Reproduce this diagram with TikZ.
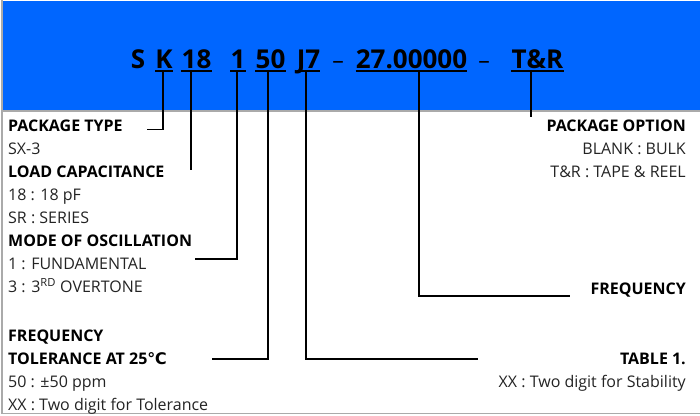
\documentclass[tikz,border=0pt]{standalone}
\usepackage{fontspec}
\setmainfont{Open Sans}
\newfontfamily\dejavu{DejaVu Sans}
\definecolor{bandblue}{RGB}{0,102,255}
\definecolor{rulegray}{RGB}{170,170,170}
\definecolor{txt}{RGB}{35,35,35}
\begin{document}
\begin{tikzpicture}[x=1pt,y=-1pt,
  code/.style={font=\fontsize{26}{30}\selectfont\bfseries, inner sep=0pt, anchor=base, text=black},
  codedash/.style={font=\fontsize{23}{26}\selectfont, inner sep=0pt, anchor=base, text=black},
  head/.style={font=\fontsize{16}{19}\selectfont\bfseries, inner sep=0pt, text=black},
  body/.style={font=\fontsize{16}{19}\selectfont, inner sep=0pt, text=txt},
  lead/.style={line width=1.7pt, black},
  uline/.style={line width=1.6pt, black}]
\useasboundingbox (0,0) rectangle (700,415);
% frame and band
\fill[bandblue] (2.5,1) rectangle (700,109.5);
\draw[rulegray, line width=2pt] (2,110.5) -- (700,110.5);
\draw[rulegray, line width=1.2pt] (2,0) -- (2,413.5);
\draw[rulegray, line width=1.5pt] (2,413.5) -- (700,413.5);
% code tokens
\node[code] (tS) at (138,68) {S};
\node[code] (tK) at (164,68) {K};
\node[code] (t18) at (196.5,68) {18};
\node[code] (t1) at (238,68) {1};
\node[code] (t50) at (270.5,68) {50};
\node[code] (tJ7) at (308.5,68) {J7};
\node[codedash] (td1) at (338,68) {–};
\node[code] (tF) at (411.5,68) {27.00000};
\node[codedash] (td2) at (484,68) {–};
\node[code] (tTR) at (537.5,68) {T\&R};
\foreach \n in {tK,t18,t1,t50,tJ7,tF,tTR}
  \draw[uline] ([yshift=-3pt]\n.base west) -- ([yshift=-3pt]\n.base east);
% connector anchor points
\coordinate (cK) at (163,72);
\coordinate (c18) at (191,72);
\coordinate (c1) at (237,72);
\coordinate (c50) at (268,72);
\coordinate (cJ7) at (306,72);
\coordinate (cF) at (419,72);
\coordinate (cTR) at (531,72);
\coordinate (eK) at (147,129.5);
\coordinate (e18) at (191,170);
\coordinate (e1) at (195,259);
\coordinate (e50) at (212,359);
\coordinate (eJ7) at (478,359);
\coordinate (eF) at (570,296);
\coordinate (eTR) at (531,116.5);
\draw[lead] (cK) |- (eK);
\draw[lead] (c18) -- (e18);
\draw[lead] (c1) |- (e1);
\draw[lead] (c50) |- (e50);
\draw[lead] (cJ7) |- (eJ7);
\draw[lead] (cF) |- (eF);
\draw[lead] (cTR) -- (eTR);
% left texts
\node[head, anchor=base west] (pt) at (8,131) {PACKAGE TYPE};
\node[body, anchor=base west] (sx) at (8,154) {SX-3};
\node[head, anchor=base west] (lc) at (8,177.5) {LOAD CAPACITANCE};
\node[body, anchor=base west] (lc1) at (8,200.5) {18 : 18 pF};
\node[body, anchor=base west] (lc2) at (8,223.5) {SR : SERIES};
\node[head, anchor=base west] (mo) at (8,246.5) {MODE OF OSCILLATION};
\node[body, anchor=base west] (mo1) at (8,269.5) {1 : FUNDAMENTAL};
\node[body, anchor=base west] (mo2) at (8,292.5) {3 : 3\textsuperscript{RD} OVERTONE};
\node[head, anchor=base west] (ft1) at (8,341.5) {FREQUENCY};
\node[head, anchor=base west] (ft2) at (8,364.5) {TOLERANCE AT 25{\dejavu\bfseries ℃}};
\node[body, anchor=base west] (ft3) at (8,387.5) {50 : ±50 ppm};
\node[body, anchor=base west] (ft4) at (8,410.5) {XX : Two digit for Tolerance};
% right texts
\node[head, anchor=base east] (po) at (686,131) {PACKAGE OPTION};
\node[body, anchor=base east] (po1) at (686,154) {BLANK : BULK};
\node[body, anchor=base east] (po2) at (686,177.5) {T\&R : TAPE \& REEL};
\node[head, anchor=base east] (fq) at (686,294.5) {FREQUENCY};
\node[head, anchor=base east] (tb) at (686,364.5) {TABLE 1.};
\node[body, anchor=base east] (tb1) at (686,387.5) {XX : Two digit for Stability};
\end{tikzpicture}
\end{document}
